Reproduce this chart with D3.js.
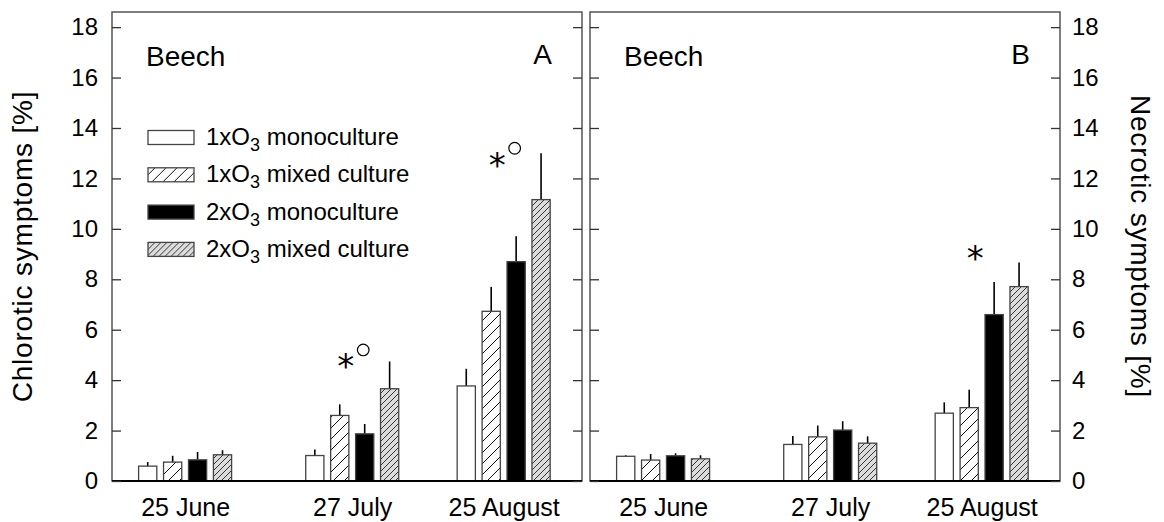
<!DOCTYPE html>
<html>
<head>
<meta charset="utf-8">
<script src="https://cdn.jsdelivr.net/npm/d3@7"></script>
<style>
  body { margin: 0; background: #fff; }
  text { font-family: "Liberation Sans", Arial, Helvetica, sans-serif; fill: #000; }
</style>
</head>
<body>
<div id="container"></div>
<script>
// sampling dates
const dates = ["2003-06-25", "2003-07-27", "2003-08-25"]
const seriesNames = ["1xO3 monoculture", "1xO3 mixed culture", "2xO3 monoculture", "2xO3 mixed culture"]

// panel A: chlorotic symptoms [%], mean and standard error, per series
const chlMono1 = [0.59, 1.01, 3.77]
const chlMixed1 = [0.75, 2.60, 6.73]
const chlMono2 = [0.84, 1.87, 8.70]
const chlMixed2 = [1.04, 3.66, 11.16]
const chlMono1Se = [0.16, 0.24, 0.68]
const chlMixed1Se = [0.25, 0.44, 0.97]
const chlMono2Se = [0.31, 0.39, 1.01]
const chlMixed2Se = [0.18, 1.08, 1.84]
const chlSig = ["", "*o", "*o"]
const chlSigAt = [0, 4.9, 12.9]

// panel B: necrotic symptoms [%]
const necMono1 = [0.98, 1.45, 2.69]
const necMixed1 = [0.83, 1.75, 2.91]
const necMono2 = [1.00, 2.02, 6.60]
const necMixed2 = [0.88, 1.50, 7.71]
const necMono1Se = [0.04, 0.33, 0.43]
const necMixed1Se = [0.24, 0.45, 0.71]
const necMono2Se = [0.10, 0.35, 1.29]
const necMixed2Se = [0.14, 0.27, 0.96]
const necSig = ["", "", "*"]
const necSigAt = [0, 0, 9.2]

const yTicks = [0, 2, 4, 6, 8, 10, 12, 14, 16, 18]

let width = 1164
let height = 522
let plotTop = 12, plotBottom = 481

let parse = d3.timeParse("%Y-%m-%d")

let svg = d3.select("#container")
    .append("svg")
    .attr("width", width)
    .attr("height", height)

// fills
let defs = svg.append("defs")
let p1 = defs.append("pattern")
    .attr("id", "hatchWide")
    .attr("patternUnits", "userSpaceOnUse")
    .attr("width", 11).attr("height", 11)
p1.append("rect").attr("width", 11).attr("height", 11).attr("fill", "#fff")
p1.append("path")
    .attr("d", "M0,11L11,0M-2,2L2,-2M9,13L13,9")
    .attr("stroke", "#111").attr("stroke-width", 1)
let p2 = defs.append("pattern")
    .attr("id", "hatchDense")
    .attr("patternUnits", "userSpaceOnUse")
    .attr("width", 6).attr("height", 6)
p2.append("rect").attr("width", 6).attr("height", 6).attr("fill", "#dcdcdc")
p2.append("path")
    .attr("d", "M0,6L6,0M-1,1L1,-1M5,7L7,5")
    .attr("stroke", "#222").attr("stroke-width", 0.9)

let fills = ["#fff", "url(#hatchWide)", "#000", "url(#hatchDense)"]

let y = d3.scaleLinear()
    .domain([0, 18.6])
    .range([plotBottom, plotTop])

let band = d3.scaleBand()
    .domain(d3.range(4))
    .range([-46.5, 46.5])
    .paddingInner(0.27)

function panel(left, right, means, ses, sig, sigAt, label) {
    let x = d3.scaleTime()
        .domain([parse("2003-06-11"), parse("2003-09-09")])
        .range([left, right])

    let rows = []
    dates.forEach((d, i) => {
        means.forEach((m, s) => {
            rows.push({date: parse(d), s: s, value: m[i], se: ses[s][i]})
        })
    })

    let g = svg.append("g")

    // frame
    g.append("rect")
        .attr("x", left).attr("y", plotTop)
        .attr("width", right - left).attr("height", plotBottom - plotTop)
        .attr("fill", "none")
        .attr("stroke", "#555")
        .attr("stroke-width", 1.5)

    // error bars
    g.append("g")
        .attr("stroke", "#000")
        .attr("stroke-width", 1.6)
        .selectAll("line")
        .data(rows)
        .join("line")
            .attr("x1", d => x(d.date) + band(d.s) + band.bandwidth() / 2)
            .attr("x2", d => x(d.date) + band(d.s) + band.bandwidth() / 2)
            .attr("y1", d => y(d.value))
            .attr("y2", d => y(d.value + d.se))

    // bars
    g.append("g")
        .selectAll("rect")
        .data(rows)
        .join("rect")
            .attr("x", d => x(d.date) + band(d.s))
            .attr("y", d => y(d.value))
            .attr("width", band.bandwidth())
            .attr("height", d => y(0) - y(d.value))
            .attr("fill", d => fills[d.s])
            .attr("stroke", "#444")
            .attr("stroke-width", 1.3)

    // baseline
    g.append("line")
        .attr("x1", left).attr("x2", right)
        .attr("y1", plotBottom).attr("y2", plotBottom)
        .attr("stroke", "#000").attr("stroke-width", 1.8)

    // x labels
    g.append("g")
        .attr("transform", `translate(0,${plotBottom})`)
        .call(d3.axisBottom(x)
            .tickValues(dates.map(parse))
            .tickFormat(d3.timeFormat("%-d %B"))
            .tickSize(0)
            .tickPadding(17))
        .call(g => g.select(".domain").remove())
        .call(g => g.selectAll("text").attr("font-size", 25))

    // inward y ticks on both sides
    g.append("g")
        .attr("transform", `translate(${left},0)`)
        .call(d3.axisLeft(y).tickValues(yTicks).tickSize(-9).tickFormat(""))
        .call(g => g.select(".domain").remove())
        .call(g => g.selectAll("line").attr("stroke", "#333").attr("stroke-width", 1.3))
    g.append("g")
        .attr("transform", `translate(${right},0)`)
        .call(d3.axisRight(y).tickValues(yTicks).tickSize(-9).tickFormat(""))
        .call(g => g.select(".domain").remove())
        .call(g => g.selectAll("line").attr("stroke", "#333").attr("stroke-width", 1.3))

    // significance marks
    dates.forEach((d, i) => {
        if (!sig[i]) return
        let cx = x(parse(d))
        let cy = y(sigAt[i])
        g.append("text")
            .attr("x", cx - 6.5)
            .attr("y", cy + 21)
            .attr("text-anchor", "middle")
            .style("font-family", '"DejaVu Sans"')
            .style("font-size", "34px")
            .text("*")
        if (sig[i].includes("o")) {
            g.append("circle")
                .attr("cx", cx + 11)
                .attr("cy", cy - 7.5)
                .attr("r", 5.8)
                .attr("fill", "none")
                .attr("stroke", "#000")
                .attr("stroke-width", 1.2)
        }
    })

    // titles
    g.append("text")
        .attr("x", left + 34)
        .attr("y", 66)
        .attr("font-size", 28)
        .text("Beech")
    g.append("text")
        .attr("x", right - 30)
        .attr("y", 64)
        .attr("text-anchor", "end")
        .attr("font-size", 28)
        .text(label)
}

panel(112, 582,
    [chlMono1, chlMixed1, chlMono2, chlMixed2],
    [chlMono1Se, chlMixed1Se, chlMono2Se, chlMixed2Se],
    chlSig, chlSigAt, "A")
panel(590, 1060,
    [necMono1, necMixed1, necMono2, necMixed2],
    [necMono1Se, necMixed1Se, necMono2Se, necMixed2Se],
    necSig, necSigAt, "B")

// outer tick labels
svg.append("g")
    .attr("transform", "translate(112,0)")
    .call(d3.axisLeft(y).tickValues(yTicks).tickSize(0).tickPadding(14))
    .call(g => g.select(".domain").remove())
    .call(g => g.selectAll("text").attr("font-size", 24))
svg.append("g")
    .attr("transform", "translate(1060,0)")
    .call(d3.axisRight(y).tickValues(yTicks).tickSize(0).tickPadding(12))
    .call(g => g.select(".domain").remove())
    .call(g => g.selectAll("text").attr("font-size", 24))

// axis titles
svg.append("text")
    .attr("transform", `translate(32,${(plotTop + plotBottom) / 2}) rotate(-90)`)
    .attr("text-anchor", "middle")
    .attr("font-size", 28)
    .attr("letter-spacing", 0.8)
    .text("Chlorotic symptoms [%]")
svg.append("text")
    .attr("transform", `translate(1131,${(plotTop + plotBottom) / 2}) rotate(90)`)
    .attr("text-anchor", "middle")
    .attr("font-size", 28)
    .attr("letter-spacing", 0.8)
    .text("Necrotic symptoms [%]")

// legend
let legend = svg.append("g")
    .selectAll("g")
    .data(seriesNames)
    .join("g")
        .attr("transform", (d, i) => `translate(148,${137.5 + i * 37.3})`)
legend.append("rect")
    .attr("x", 0).attr("y", -7)
    .attr("width", 46).attr("height", 14)
    .attr("fill", (d, i) => fills[i])
    .attr("stroke", "#444")
    .attr("stroke-width", 1.3)
let lt = legend.append("text")
    .attr("x", 58)
    .attr("y", 7.5)
    .attr("font-size", 24)
lt.append("tspan").text(d => d.slice(0, 3))
lt.append("tspan").attr("dy", 6).attr("font-size", 18).text(d => d.slice(3, 4))
lt.append("tspan").attr("dy", -6).text(d => d.slice(4))
</script>
</body>
</html>
